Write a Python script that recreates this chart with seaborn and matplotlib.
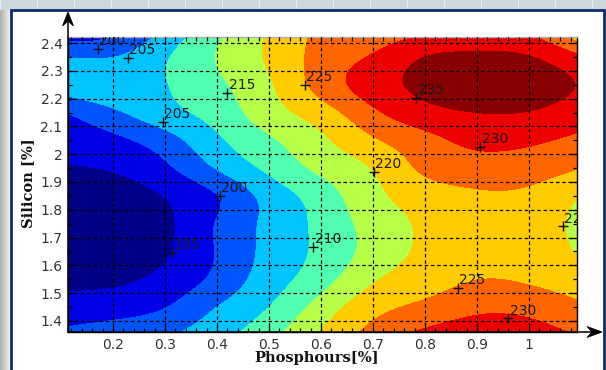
import numpy as np
import matplotlib
matplotlib.use("Agg")
import matplotlib.pyplot as plt
from matplotlib.patches import Rectangle, Polygon
from matplotlib.lines import Line2D
from matplotlib.ticker import MultipleLocator
import seaborn as sns

# ---- data -------------------------------------------------------------
phosphorus = [0.1, 0.2, 0.3, 0.4, 0.5, 0.6, 0.7, 0.8, 0.9, 1.0, 1.1]
silicon = [1.35, 1.45, 1.55, 1.65, 1.75, 1.85, 1.95, 2.05, 2.15, 2.25, 2.35, 2.45]

# response value on the (silicon row, phosphorus column) grid
resp_si_135 = [201.0, 202.6, 204.6, 208.1, 213.5, 220.5, 226.8, 231.3, 232.8, 232.2, 229.5]
resp_si_145 = [197.0, 197.8, 199.8, 205.0, 210.0, 217.0, 223.2, 226.2, 228.8, 228.4, 225.8]
resp_si_155 = [193.3, 193.8, 196.5, 201.3, 207.5, 212.9, 219.4, 222.6, 224.9, 224.3, 222.0]
resp_si_165 = [189.0, 190.5, 194.3, 200.3, 206.4, 211.2, 216.8, 221.0, 223.3, 222.5, 219.5]
resp_si_175 = [187.0, 189.0, 193.8, 200.3, 206.2, 211.3, 217.0, 220.8, 222.8, 222.0, 219.0]
resp_si_185 = [189.5, 191.5, 195.2, 199.9, 206.8, 212.4, 218.6, 222.3, 224.2, 223.8, 220.0]
resp_si_195 = [194.3, 195.5, 199.0, 205.3, 211.1, 216.1, 220.2, 226.0, 227.8, 227.3, 225.0]
resp_si_205 = [197.2, 198.8, 202.8, 209.0, 214.2, 219.0, 224.3, 228.4, 231.2, 230.8, 228.8]
resp_si_215 = [199.7, 204.0, 208.3, 212.0, 217.8, 222.6, 229.0, 233.3, 235.0, 234.8, 232.5]
resp_si_225 = [207.5, 208.5, 209.8, 213.9, 219.4, 226.8, 232.5, 236.3, 238.0, 237.4, 234.6]
resp_si_235 = [205.0, 204.9, 209.4, 215.2, 220.7, 226.7, 230.5, 235.0, 236.0, 235.2, 230.5]
resp_si_245 = [195.0, 197.9, 205.3, 213.5, 220.4, 225.7, 226.4, 228.3, 229.6, 228.5, 218.3]

levels = [170, 195, 200, 205, 210, 215, 220, 225, 230, 235, 260]
band_colors = ["#000088", "#0000e6", "#0055ff", "#00c4ff", "#50ffaf",
               "#b8ff48", "#ffcc00", "#ff6600", "#ee0000", "#880000"]

x_ticks = [0.2, 0.3, 0.4, 0.5, 0.6, 0.7, 0.8, 0.9, 1.0]
x_tick_labels = ["0.2", "0.3", "0.4", "0.5", "0.6", "0.7", "0.8", "0.9", "1"]
y_ticks = [1.4, 1.5, 1.6, 1.7, 1.8, 1.9, 2.0, 2.1, 2.2, 2.3, 2.4]
y_tick_labels = ["1.4", "1.5", "1.6", "1.7", "1.8", "1.9", "2", "2.1", "2.2", "2.3", "2.4"]

# contour annotations: (phosphorus, silicon, level)
label_p = [0.171, 0.229, 0.296, 0.420, 0.569, 0.783, 0.906, 0.702, 0.406, 0.313, 0.585, 1.065, 0.863, 0.960]
label_si = [2.380, 2.346, 2.116, 2.220, 2.249, 2.203, 2.026, 1.936, 1.850, 1.645, 1.666, 1.740, 1.520, 1.410]
label_level = [200, 205, 205, 215, 225, 235, 230, 220, 200, 195, 210, 220, 225, 230]

x_label = "Phosphours[%]"
y_label = "Silicon [%]"


def natural_spline_matrix(x, xf):
    """Matrix that maps values at knots x to a natural cubic spline at xf."""
    x = np.asarray(x, float)
    n = len(x)
    h = np.diff(x)
    A = np.zeros((n, n))
    B = np.zeros((n, n))
    A[0, 0] = A[-1, -1] = 1.0
    for i in range(1, n - 1):
        A[i, i - 1] = h[i - 1]
        A[i, i] = 2 * (h[i - 1] + h[i])
        A[i, i + 1] = h[i]
        B[i, i - 1] = 6 / h[i - 1]
        B[i, i] = -6 / h[i - 1] - 6 / h[i]
        B[i, i + 1] = 6 / h[i]
    M2 = np.linalg.solve(A, B)  # second derivatives per unit value
    idx = np.clip(np.searchsorted(x, xf) - 1, 0, n - 2)
    out = np.zeros((len(xf), n))
    for r, (xv, i) in enumerate(zip(xf, idx)):
        hi = h[i]
        a = (x[i + 1] - xv) / hi
        b = (xv - x[i]) / hi
        out[r, i] += a
        out[r, i + 1] += b
        out[r] += ((a ** 3 - a) * M2[i] + (b ** 3 - b) * M2[i + 1]) * hi ** 2 / 6
    return out


# ---- figure -----------------------------------------------------------
W, H = 606, 370
sns.set_theme(style="ticks")
plt.rcParams["font.family"] = ["DejaVu Sans"]

fig = plt.figure(figsize=(W / 100, H / 100), dpi=100)
fig.patch.set_facecolor("#e4e7ea")


def fx(px):
    return px / W


def fy(py):
    return (H - py) / H


# window backdrop: grey shade on the left, blue-grey strip on top
bg = fig.add_axes([0, 0, 1, 1], zorder=-10)
bg.set_axis_off()
grad = np.ones((H, W, 3))
xs = np.arange(W)
left_shade = np.clip(0.70 + 0.025 * xs, 0.70, 0.93)
grad[:, :, :] = left_shade[None, :, None]
top = np.array([0.80, 0.84, 0.87])
grad[:10, :, :] = top[None, None, :]
grad[:10, ::37, :] = 0.92
bg.imshow(grad, extent=[0, 1, 0, 1], aspect="auto", interpolation="bilinear")
fig.add_artist(Rectangle((fx(11), fy(375)), fx(604) - fx(11), fy(9.5) - fy(375),
                         transform=fig.transFigure, facecolor="white",
                         edgecolor="#0f2a6e", linewidth=2.0, zorder=-5))

ax = fig.add_axes([fx(68), fy(332), fx(577) - fx(68), fy(37) - fy(332)])

resp = np.array([resp_si_135, resp_si_145, resp_si_155, resp_si_165, resp_si_175,
                 resp_si_185, resp_si_195, resp_si_205, resp_si_215, resp_si_225,
                 resp_si_235, resp_si_245])
p_fine = np.linspace(phosphorus[0], phosphorus[-1], 300)
s_fine = np.linspace(silicon[0], silicon[-1], 300)
Sp = natural_spline_matrix(phosphorus, p_fine)
Ss = natural_spline_matrix(silicon, s_fine)
resp_fine = Ss @ resp @ Sp.T
ax.contourf(p_fine, s_fine, resp_fine, levels=levels, colors=band_colors,
            antialiased=False)

ax.set_xlim(0.1135, 1.0923)
ax.set_ylim(1.3604, 2.4216)

ax.set_xticks(x_ticks)
ax.set_xticklabels(x_tick_labels)
ax.set_yticks(y_ticks)
ax.set_yticklabels(y_tick_labels)
ax.xaxis.set_minor_locator(MultipleLocator(0.02))
ax.yaxis.set_minor_locator(MultipleLocator(0.05))
ax.tick_params(which="both", direction="in", top=True, right=True, color="black",
               width=0.9, labelsize=10, labelcolor="#333333", pad=4)
ax.tick_params(which="major", length=5)
ax.tick_params(which="minor", length=3)
ax.grid(True, which="major", color="black", linestyle=(0, (2.8, 2.2)), linewidth=0.9)
ax.set_axisbelow(False)

for side in ("left", "bottom", "right"):
    ax.spines[side].set_color("black")
    ax.spines[side].set_linewidth(1.0)
ax.spines["top"].set_color("#b0b0b0")
ax.spines["top"].set_linewidth(1.0)

for p, s, lev in zip(label_p, label_si, label_level):
    ax.plot([p], [s], marker="+", markersize=7, color="#111111", mew=1.0, clip_on=True)
    ax.annotate(str(lev), (p, s), xytext=(1.0, 0.5), textcoords="offset points",
                ha="left", va="bottom", fontsize=10, color="#1a1a1a",
                annotation_clip=False, clip_on=True)

# axis arrows
fig.add_artist(Line2D([fx(68), fx(594)], [fy(332), fy(332)], transform=fig.transFigure,
                      color="black", linewidth=1.1))
fig.add_artist(Line2D([fx(68), fx(68)], [fy(332), fy(20)], transform=fig.transFigure,
                      color="black", linewidth=1.1))
xhead = [(602, 332), (587, 326.5), (592, 332), (587, 337.5)]
yhead = [(68, 12), (62.5, 26), (68, 21), (73.5, 26)]
for head in (xhead, yhead):
    fig.add_artist(Polygon([(fx(a), fy(b)) for a, b in head], closed=True,
                           transform=fig.transFigure, facecolor="black",
                           edgecolor="black", linewidth=0.6))

fig.text(fx(317), fy(358), x_label, ha="center", va="center", fontsize=10.5,
         fontweight="bold", family="DejaVu Serif", color="#111111")
fig.text(fx(28), fy(183), y_label, ha="center", va="center", rotation=90,
         fontsize=10.5, fontweight="bold", family="DejaVu Serif", color="#111111")

fig.savefig("out.png", dpi=100)
